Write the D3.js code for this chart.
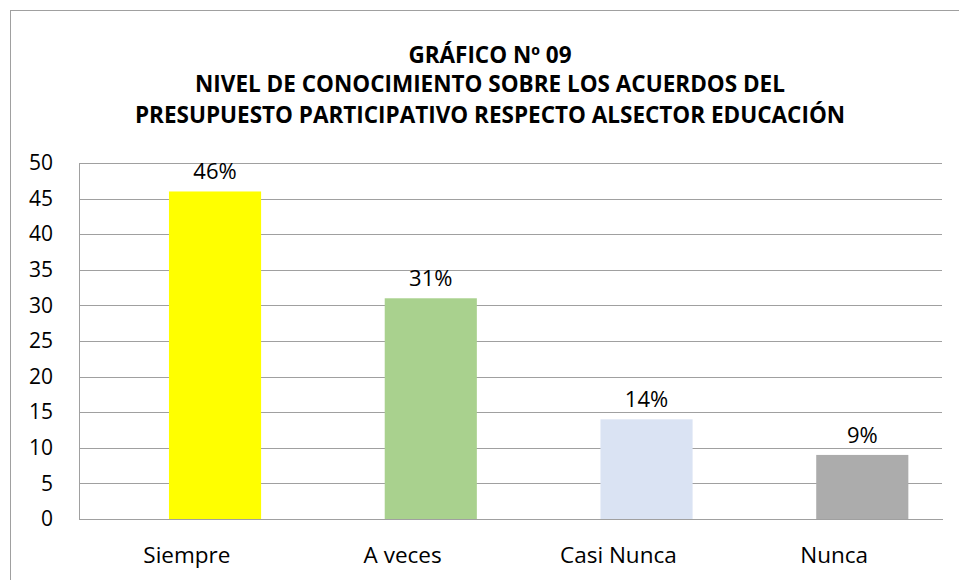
<!DOCTYPE html>
<html>
<head>
<meta charset="utf-8">
<script src="https://cdn.jsdelivr.net/npm/d3@7"></script>
<style>
  body { margin: 0; background: #fff; }
  text { font-family: "Open Sans", "Noto Sans", sans-serif; fill: #000; }
  .title { font-weight: bold; font-size: 22.5px; }
  .axis--y text { font-size: 21px; }
  .axis--x text { font-size: 22.5px; }
  .value { font-size: 22px; }
</style>
</head>
<body>
<svg id="chart" width="959" height="580"></svg>
<script>
var TITLE_LINES = ["GRÁFICO Nº 09", "NIVEL DE CONOCIMIENTO SOBRE LOS ACUERDOS DEL", "PRESUPUESTO PARTICIPATIVO RESPECTO ALSECTOR EDUCACIÓN"];
var CATEGORIES = ["Siempre", "A veces", "Casi Nunca", "Nunca"];
var VALUES = [46, 31, 14, 9];
var VALUE_LABELS = ["46%", "31%", "14%", "9%"];
var BAR_COLORS = ["#ffff00", "#a9d18e", "#dae3f3", "#acacac"];
var Y_TICKS = [0, 5, 10, 15, 20, 25, 30, 35, 40, 45, 50];

var svg = d3.select("#chart");
var margin = {top: 163, right: 17, bottom: 61, left: 79};
var width = svg.attr("width") - margin.left - margin.right;
var height = svg.attr("height") - margin.top - margin.bottom;

/* outer chart frame, runs off the right and bottom edges */
svg.append("rect")
    .attr("x", 10.5).attr("y", 10.5)
    .attr("width", 1000).attr("height", 1000)
    .attr("fill", "none")
    .attr("stroke", "#a0a0a0");

/* title */
var titleY = [63, 92, 123];
svg.selectAll(".title")
    .data(TITLE_LINES).enter()
    .append("text")
    .classed("title", true)
    .attr("x", 490)
    .attr("y", function(d, i){ return titleY[i]; })
    .attr("text-anchor", "middle")
    .text(function(d){ return d; });

var g = svg.append("g").attr("transform", "translate(" + margin.left + "," + margin.top + ")");

var x = d3.scaleBand().domain(CATEGORIES).range([0, width]);
var y = d3.scaleLinear().domain([0, 50]).range([height, 0]);

/* gridlines */
g.append("g")
    .attr("class", "grid")
    .call(d3.axisLeft(y).tickValues(Y_TICKS).tickSize(-width).tickFormat(""))
    .call(function(s){
        s.select(".domain").remove();
        s.selectAll("line").attr("stroke", "#a0a0a0").attr("shape-rendering", "crispEdges");
    });

/* y axis */
g.append("g")
    .attr("class", "axis axis--y")
    .call(d3.axisLeft(y).tickValues(Y_TICKS).tickSize(0).tickPadding(26))
    .call(function(s){
        s.select(".domain").attr("stroke", "#a0a0a0").attr("shape-rendering", "crispEdges");
        s.selectAll("text").attr("fill", "#000");
    });

/* bars - sit right of the category centre, like the original */
var bw = x.bandwidth();
g.selectAll(".bar")
    .data(VALUES).enter()
    .append("rect")
    .classed("bar", true)
    .attr("x", function(d, i){ return x(CATEGORIES[i]) + bw * 0.417; })
    .attr("width", bw * 0.427)
    .attr("y", function(d){ return y(d); })
    .attr("height", function(d){ return height - y(d); })
    .attr("fill", function(d, i){ return BAR_COLORS[i]; });

/* value labels */
g.selectAll(".value")
    .data(VALUES).enter()
    .append("text")
    .classed("value", true)
    .attr("x", function(d, i){ return x(CATEGORIES[i]) + bw * (0.417 + 0.427 / 2); })
    .attr("y", function(d){ return y(d) - 12; })
    .attr("text-anchor", "middle")
    .text(function(d, i){ return VALUE_LABELS[i]; });

/* x axis */
g.append("g")
    .attr("class", "axis axis--x")
    .attr("transform", "translate(0," + height + ")")
    .call(d3.axisBottom(x).tickSize(0).tickPadding(28))
    .call(function(s){
        s.select(".domain").attr("stroke", "#a0a0a0").attr("shape-rendering", "crispEdges");
        s.selectAll("text").attr("fill", "#000");
    });
</script>
</body>
</html>
